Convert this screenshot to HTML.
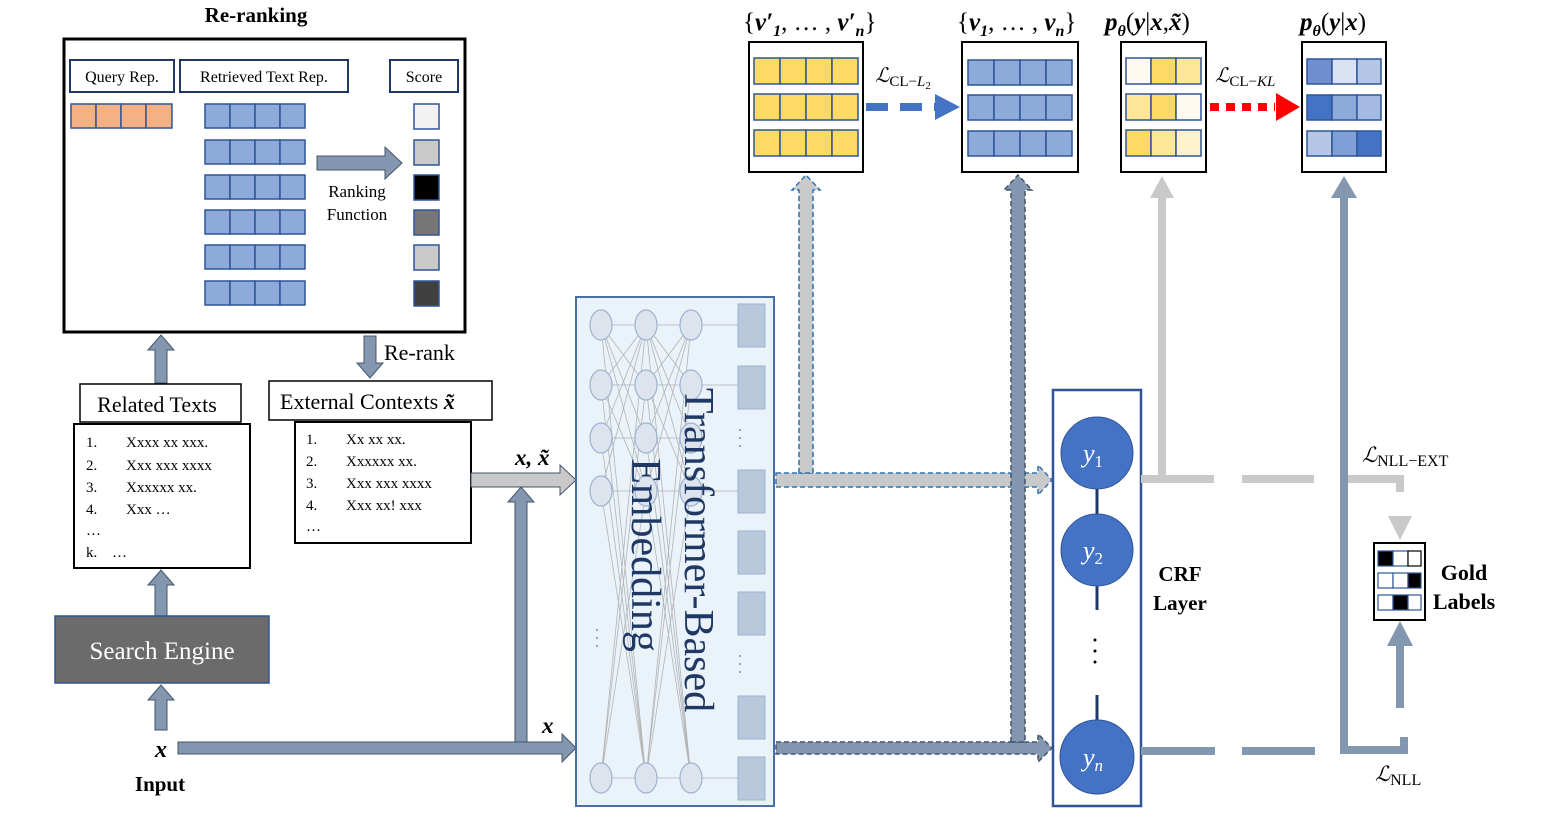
<!DOCTYPE html>
<html><head><meta charset="utf-8"><style>
body{margin:0;background:#fff}
svg{display:block;font-family:"Liberation Serif",serif}
</style></head><body>
<svg width="1568" height="829" viewBox="0 0 1568 829" xmlns="http://www.w3.org/2000/svg">
<defs>
<g id="brow"><rect x="0" y="0" width="25" height="24" fill="#8eaadb" stroke="#2f5597" stroke-width="1.5"/><rect x="25" y="0" width="25" height="24" fill="#8eaadb" stroke="#2f5597" stroke-width="1.5"/><rect x="50" y="0" width="25" height="24" fill="#8eaadb" stroke="#2f5597" stroke-width="1.5"/><rect x="75" y="0" width="25" height="24" fill="#8eaadb" stroke="#2f5597" stroke-width="1.5"/></g>
<g id="yrow"><rect x="0" y="0" width="26" height="26" fill="#ffd966" stroke="#2f5597" stroke-width="1.5"/><rect x="26" y="0" width="26" height="26" fill="#ffd966" stroke="#2f5597" stroke-width="1.5"/><rect x="52" y="0" width="26" height="26" fill="#ffd966" stroke="#2f5597" stroke-width="1.5"/><rect x="78" y="0" width="26" height="26" fill="#ffd966" stroke="#2f5597" stroke-width="1.5"/></g>
</defs>

<!-- Re-ranking -->
<text x="256" y="22" font-size="21" font-weight="bold" text-anchor="middle">Re-ranking</text>
<rect x="64" y="39" width="401" height="293" fill="#fff" stroke="#000" stroke-width="3"/>
<rect x="70" y="60" width="104" height="32" fill="#fff" stroke="#1f3864" stroke-width="2"/>
<text x="122" y="82" font-size="16" text-anchor="middle">Query Rep.</text>
<rect x="180" y="60" width="168" height="32" fill="#fff" stroke="#1f3864" stroke-width="2"/>
<text x="264" y="82" font-size="16" text-anchor="middle">Retrieved Text Rep.</text>
<rect x="390" y="60" width="68" height="32" fill="#fff" stroke="#1f3864" stroke-width="2"/>
<text x="424" y="82" font-size="16" text-anchor="middle">Score</text>
<g stroke="#2f5597" stroke-width="1.5" fill="#f4b183"><rect x="71" y="104" width="25" height="24"/><rect x="96" y="104" width="25" height="24"/><rect x="121" y="104" width="25" height="24"/><rect x="146" y="104" width="26" height="24"/></g>
<use href="#brow" x="205" y="104"/><use href="#brow" x="205" y="140"/><use href="#brow" x="205" y="175"/><use href="#brow" x="205" y="210"/><use href="#brow" x="205" y="245"/><use href="#brow" x="205" y="281"/>
<polygon points="317,156 385,156 385,147 402,163 385,179 385,170 317,170" fill="#8497b0" stroke="#44546a" stroke-width="1"/>
<text x="357" y="197" font-size="17" text-anchor="middle">Ranking</text>
<text x="357" y="220" font-size="17" text-anchor="middle">Function</text>
<g stroke="#2f5597" stroke-width="1.5"><rect x="414" y="104" width="25" height="25" fill="#f2f2f2"/><rect x="414" y="140" width="25" height="25" fill="#c9c9c9"/><rect x="414" y="175" width="25" height="25" fill="#000"/><rect x="414" y="210" width="25" height="25" fill="#767676"/><rect x="414" y="245" width="25" height="25" fill="#c9c9c9"/><rect x="414" y="281" width="25" height="25" fill="#404040"/></g>

<!-- arrows left column -->
<g fill="#8497b0" stroke="#44546a" stroke-width="1">
<polygon points="155,383 155,350 148,350 161,335 174,350 167,350 167,383"/>
<polygon points="364,336 376,336 376,363 383,363 370,378 357,363 364,363"/>
<polygon points="155,616 155,585 148,585 161,570 174,585 167,585 167,616"/>
<polygon points="155,730 155,700 148,700 161,685 174,700 167,700 167,730"/>
</g>
<text x="384" y="360" font-size="22">Re-rank</text>

<rect x="80" y="384" width="161" height="38" fill="#fff" stroke="#000" stroke-width="1.5"/>
<text x="157" y="412" font-size="22" text-anchor="middle">Related Texts</text>
<rect x="74" y="424" width="176" height="144" fill="#fff" stroke="#000" stroke-width="2"/>
<g font-size="15"><text x="86" y="447">1.</text><text x="126" y="447">Xxxx xx xxx.</text>
<text x="86" y="470">2.</text><text x="126" y="470">Xxx xxx xxxx</text>
<text x="86" y="492">3.</text><text x="126" y="492">Xxxxxx xx.</text>
<text x="86" y="514">4.</text><text x="126" y="514">Xxx …</text>
<text x="86" y="535">…</text><text x="86" y="557">k.</text><text x="112" y="557">…</text></g>

<rect x="269" y="381" width="223" height="39" fill="#fff" stroke="#000" stroke-width="1.5"/>
<text x="280" y="409" font-size="22">External Contexts <tspan font-style="italic" font-weight="bold">x̃</tspan></text>
<rect x="295" y="422" width="176" height="121" fill="#fff" stroke="#000" stroke-width="2"/>
<g font-size="15"><text x="306" y="444">1.</text><text x="346" y="444">Xx xx xx.</text>
<text x="306" y="466">2.</text><text x="346" y="466">Xxxxxx xx.</text>
<text x="306" y="488">3.</text><text x="346" y="488">Xxx xxx xxxx</text>
<text x="306" y="510">4.</text><text x="346" y="510">Xxx xx! xxx</text>
<text x="306" y="531">…</text></g>

<rect x="55" y="616" width="214" height="67" fill="#6b6b6b" stroke="#2f5597" stroke-width="1.5"/>
<text x="162" y="659" font-size="25" fill="#fff" text-anchor="middle">Search Engine</text>
<text x="161" y="757" font-size="24" font-weight="bold" font-style="italic" text-anchor="middle">x</text>
<text x="160" y="791" font-size="21" font-weight="bold" text-anchor="middle">Input</text>

<!-- x arrows -->
<polygon points="178,742 562,742 562,734 576,748 562,762 562,754 178,754" fill="#8497b0" stroke="#44546a" stroke-width="1"/>
<polygon points="515,742 515,502 508,502 521,487 534,502 527,502 527,742" fill="#8497b0" stroke="#44546a" stroke-width="1"/>
<polygon points="471,473 560,473 560,465 576,480 560,495 560,487 471,487" fill="#c9c9c9" stroke="#44546a" stroke-width="1"/>
<text x="515" y="465" font-size="23" font-weight="bold" font-style="italic">x, x̃</text>
<text x="542" y="733" font-size="23" font-weight="bold" font-style="italic">x</text>

<!-- Transformer -->
<rect x="576" y="297" width="198" height="509" fill="#eaf2fa" stroke="#4a6fa5" stroke-width="2"/>
<g stroke="#b4b4b4" stroke-width="0.8" fill="none">
<path d="M601,325 L646,325 L691,325 M601,385 L691,385 M601,438 L691,438 M601,491 L691,491 M601,778 L691,778"/>
<path d="M601,325 L646,385 M601,325 L646,438 M601,325 L646,491 M601,325 L646,778 M601,385 L646,325 M601,385 L646,491 M601,385 L646,778 M601,438 L646,325 M601,438 L646,778 M601,491 L646,325 M601,491 L646,778 M601,778 L646,325 M601,778 L646,385 M601,778 L646,491"/>
<path d="M646,325 L691,385 M646,325 L691,438 M646,325 L691,491 M646,325 L691,778 M646,385 L691,325 M646,385 L691,491 M646,385 L691,778 M646,438 L691,325 M646,438 L691,778 M646,491 L691,325 M646,491 L691,778 M646,778 L691,325 M646,778 L691,385 M646,778 L691,491"/>
<path d="M691,325 L750,325 M691,385 L750,385 M691,491 L750,491 M691,778 L750,778"/>
</g>
<g fill="#dde4ee" stroke="#9fb2d0" stroke-width="1.2">
<ellipse cx="601" cy="325" rx="11" ry="15"/><ellipse cx="601" cy="385" rx="11" ry="15"/><ellipse cx="601" cy="438" rx="11" ry="15"/><ellipse cx="601" cy="491" rx="11" ry="15"/><ellipse cx="601" cy="778" rx="11" ry="15"/>
<ellipse cx="646" cy="325" rx="11" ry="15"/><ellipse cx="646" cy="385" rx="11" ry="15"/><ellipse cx="646" cy="438" rx="11" ry="15"/><ellipse cx="646" cy="491" rx="11" ry="15"/><ellipse cx="646" cy="778" rx="11" ry="15"/>
<ellipse cx="691" cy="325" rx="11" ry="15"/><ellipse cx="691" cy="385" rx="11" ry="15"/><ellipse cx="691" cy="438" rx="11" ry="15"/><ellipse cx="691" cy="491" rx="11" ry="15"/><ellipse cx="691" cy="778" rx="11" ry="15"/>
</g>
<g fill="#b8c9dc" stroke="#9fb2d0" stroke-width="1">
<rect x="738" y="304" width="27" height="43"/><rect x="738" y="366" width="27" height="43"/><rect x="738" y="470" width="27" height="43"/><rect x="738" y="531" width="27" height="43"/><rect x="738" y="592" width="27" height="43"/><rect x="738" y="696" width="27" height="43"/><rect x="738" y="757" width="27" height="43"/>
</g>
<g fill="#888"><circle cx="740" cy="430" r="1"/><circle cx="740" cy="438" r="1"/><circle cx="740" cy="446" r="1"/><circle cx="740" cy="656" r="1"/><circle cx="740" cy="664" r="1"/><circle cx="740" cy="672" r="1"/><circle cx="597" cy="630" r="1"/><circle cx="597" cy="638" r="1"/><circle cx="597" cy="646" r="1"/></g>
<text transform="translate(685,550) rotate(90)" font-size="42" fill="#1f3864" text-anchor="middle">Transformer-Based</text>
<text transform="translate(632,555) rotate(90)" font-size="42" fill="#1f3864" text-anchor="middle">Embedding</text>

<!-- outputs from transformer -->
<polygon points="776,473 1038,473 1038,465 1052,480 1038,495 1038,487 776,487" fill="#c9c9c9" stroke="#2e75b6" stroke-width="1.5" stroke-dasharray="5,3"/>
<polygon points="776,742 1038,742 1038,734 1052,748 1038,762 1038,754 776,754" fill="#8497b0" stroke="#44546a" stroke-width="1.5" stroke-dasharray="5,3"/>
<polygon points="799,473 799,190 792,190 806,175 820,190 813,190 813,473" fill="#c9c9c9" stroke="#2e75b6" stroke-width="1.5" stroke-dasharray="5,3"/>
<polygon points="1011,742 1011,190 1004,190 1018,175 1032,190 1025,190 1025,742" fill="#8497b0" stroke="#44546a" stroke-width="1.5" stroke-dasharray="5,3"/>

<!-- CRF -->
<rect x="1053" y="390" width="88" height="416" fill="#fff" stroke="#2f5597" stroke-width="2.5"/>
<g stroke="#1f3864" stroke-width="3"><line x1="1097" y1="480" x2="1097" y2="520"/><line x1="1097" y1="580" x2="1097" y2="610"/><line x1="1097" y1="695" x2="1097" y2="725"/></g>
<g fill="#4472c4" stroke="#2f5597" stroke-width="1"><circle cx="1097" cy="453" r="36"/><circle cx="1097" cy="550" r="36"/><circle cx="1097" cy="757" r="37"/></g>
<g fill="#fff" font-size="26" font-style="italic"><text x="1083" y="462">y<tspan font-size="17" font-style="normal" dy="5">1</tspan></text><text x="1083" y="559">y<tspan font-size="17" font-style="normal" dy="5">2</tspan></text><text x="1083" y="766">y<tspan font-size="17" dy="5">n</tspan></text></g>
<g fill="#000"><circle cx="1095" cy="640" r="1.5"/><circle cx="1095" cy="651" r="1.5"/><circle cx="1095" cy="662" r="1.5"/></g>
<text x="1180" y="581" font-size="21" font-weight="bold" text-anchor="middle">CRF</text>
<text x="1180" y="610" font-size="21" font-weight="bold" text-anchor="middle">Layer</text>

<!-- right lines -->
<g stroke="#c9c9c9" stroke-width="8" fill="none">
<line x1="1162" y1="478" x2="1162" y2="195"/>
<line x1="1141" y1="479" x2="1214" y2="479"/><line x1="1242" y1="479" x2="1314" y2="479"/>
<polyline points="1348,479 1400,479 1400,492"/>
</g>
<polygon points="1150,198 1162,176 1174,198" fill="#c9c9c9"/>
<polygon points="1388,516 1412,516 1400,540" fill="#c9c9c9"/>
<g stroke="#8497b0" stroke-width="8" fill="none">
<polyline points="1344,195 1344,750 1404,750 1404,737"/>
<line x1="1141" y1="751" x2="1215" y2="751"/><line x1="1242" y1="751" x2="1315" y2="751"/>
<line x1="1400" y1="708" x2="1400" y2="640"/>
</g>
<polygon points="1331,198 1344,176 1357,198" fill="#8497b0"/>
<polygon points="1387,646 1400,621 1413,646" fill="#8497b0"/>
<text x="1362" y="462" font-size="21" font-style="italic">ℒ<tspan font-style="normal" font-size="16" dy="4">NLL−EXT</tspan></text>
<text x="1375" y="781" font-size="21" font-style="italic">ℒ<tspan font-style="normal" font-size="16" dy="4">NLL</tspan></text>

<!-- gold labels -->
<rect x="1374" y="543" width="51" height="77" fill="#fff" stroke="#000" stroke-width="2"/>
<g stroke="#2f5597" stroke-width="1.2">
<rect x="1378" y="551" width="15" height="15" fill="#000"/><rect x="1393" y="551" width="15" height="15" fill="#fff"/><rect x="1408" y="551" width="13" height="15" fill="#fff" stroke="#000"/>
<rect x="1378" y="573" width="15" height="15" fill="#fff"/><rect x="1393" y="573" width="15" height="15" fill="#fff"/><rect x="1408" y="573" width="13" height="15" fill="#000"/>
<rect x="1378" y="595" width="15" height="15" fill="#fff"/><rect x="1393" y="595" width="15" height="15" fill="#000"/><rect x="1408" y="595" width="13" height="15" fill="#fff"/>
</g>
<text x="1464" y="580" font-size="22" font-weight="bold" text-anchor="middle">Gold</text>
<text x="1464" y="609" font-size="22" font-weight="bold" text-anchor="middle">Labels</text>

<!-- top boxes -->
<rect x="749" y="42" width="114" height="130" fill="#fff" stroke="#000" stroke-width="2"/>
<use href="#yrow" x="754" y="58"/><use href="#yrow" x="754" y="94"/><use href="#yrow" x="754" y="130"/>
<rect x="962" y="42" width="116" height="130" fill="#fff" stroke="#000" stroke-width="2"/>
<g stroke="#2f5597" stroke-width="1.5" fill="#8eaadb">
<rect x="968" y="60" width="26" height="25"/><rect x="994" y="60" width="26" height="25"/><rect x="1020" y="60" width="26" height="25"/><rect x="1046" y="60" width="26" height="25"/>
<rect x="968" y="95" width="26" height="25"/><rect x="994" y="95" width="26" height="25"/><rect x="1020" y="95" width="26" height="25"/><rect x="1046" y="95" width="26" height="25"/>
<rect x="968" y="131" width="26" height="25"/><rect x="994" y="131" width="26" height="25"/><rect x="1020" y="131" width="26" height="25"/><rect x="1046" y="131" width="26" height="25"/>
</g>
<rect x="1121" y="42" width="85" height="130" fill="#fff" stroke="#000" stroke-width="2"/>
<g stroke="#2f5597" stroke-width="1.5">
<rect x="1126" y="58" width="25" height="26" fill="#fffaef"/><rect x="1151" y="58" width="25" height="26" fill="#ffd966"/><rect x="1176" y="58" width="25" height="26" fill="#ffe699"/>
<rect x="1126" y="94" width="25" height="26" fill="#ffe699"/><rect x="1151" y="94" width="25" height="26" fill="#ffd966"/><rect x="1176" y="94" width="25" height="26" fill="#fffaef"/>
<rect x="1126" y="130" width="25" height="26" fill="#ffd966"/><rect x="1151" y="130" width="25" height="26" fill="#ffe699"/><rect x="1176" y="130" width="25" height="26" fill="#fff2cc"/>
</g>
<rect x="1302" y="42" width="84" height="130" fill="#fff" stroke="#000" stroke-width="2"/>
<g stroke="#2f5597" stroke-width="1.5">
<rect x="1307" y="59" width="25" height="25" fill="#6f8fd0"/><rect x="1332" y="59" width="25" height="25" fill="#dae3f3"/><rect x="1357" y="59" width="24" height="25" fill="#b4c7e7"/>
<rect x="1307" y="95" width="25" height="25" fill="#4472c4"/><rect x="1332" y="95" width="25" height="25" fill="#8eaadb"/><rect x="1357" y="95" width="24" height="25" fill="#a4bae2"/>
<rect x="1307" y="131" width="25" height="25" fill="#b4c7e7"/><rect x="1332" y="131" width="25" height="25" fill="#7f9fd6"/><rect x="1357" y="131" width="24" height="25" fill="#4472c4"/>
</g>
<g stroke="#4472c4" stroke-width="8" stroke-dasharray="22,12"><line x1="866" y1="107" x2="935" y2="107"/></g>
<polygon points="935,94 960,107 935,120" fill="#4472c4"/>
<g stroke="#ff0000" stroke-width="8" stroke-dasharray="9,7"><line x1="1210" y1="107" x2="1275" y2="107"/></g>
<polygon points="1276,93 1300,107 1276,121" fill="#ff0000"/>
<text x="875" y="82" font-size="20" font-style="italic">ℒ<tspan font-style="normal" font-size="15" dy="4">CL−<tspan font-style="italic">L</tspan><tspan font-size="11" dy="3">2</tspan></tspan></text>
<text x="1215" y="82" font-size="20" font-style="italic">ℒ<tspan font-style="normal" font-size="15" dy="4">CL−<tspan font-style="italic">KL</tspan></tspan></text>
<g font-size="25" font-weight="bold" font-style="italic">
<text x="743" y="30"><tspan font-style="normal" font-weight="normal">{</tspan>v′<tspan font-size="16" dy="6">1</tspan><tspan dy="-6" font-style="normal" font-weight="normal">, … ,</tspan> v′<tspan font-size="16" dy="6">n</tspan><tspan dy="-6" font-style="normal" font-weight="normal">}</tspan></text>
<text x="957" y="30"><tspan font-style="normal" font-weight="normal">{</tspan>v<tspan font-size="16" dy="6">1</tspan><tspan dy="-6" font-style="normal" font-weight="normal">, … ,</tspan> v<tspan font-size="16" dy="6">n</tspan><tspan dy="-6" font-style="normal" font-weight="normal">}</tspan></text>
<text x="1105" y="30">p<tspan font-size="16" dy="6">θ</tspan><tspan dy="-6" font-style="normal" font-weight="normal">(</tspan>y<tspan font-style="normal" font-weight="normal">|</tspan>x<tspan font-style="normal" font-weight="normal">,</tspan>x̃<tspan font-style="normal" font-weight="normal">)</tspan></text>
<text x="1300" y="30">p<tspan font-size="16" dy="6">θ</tspan><tspan dy="-6" font-style="normal" font-weight="normal">(</tspan>y<tspan font-style="normal" font-weight="normal">|</tspan>x<tspan font-style="normal" font-weight="normal">)</tspan></text>
</g>
</svg>
</body></html>
